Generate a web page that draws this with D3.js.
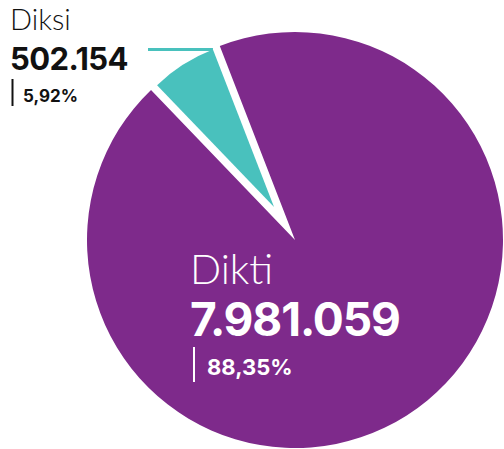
<!DOCTYPE html>
<html>
<head>
<meta charset="utf-8">
<script src="https://cdn.jsdelivr.net/npm/d3@7"></script>
<style>
  html, body { margin: 0; padding: 0; background: #fff; }
  svg { display: block; }
  text { font-family: Inter, "Open Sans", sans-serif; }
  text.name { font-family: Lato, Inter, sans-serif; }
</style>
</head>
<body>
<div id="chart"></div>
<script>
(function () {
  const categories = ['Diksi', 'Dikti'];
  const counts = [502154, 7981059];
  const percents = [5.92, 88.35];

  const COLORS = ['#49c1bd', '#7e2a8b'];

  var width = 504, height = 449;
  var cx = 295, cy = 240;
  var radius = 208;
  var explode = 39;

  var locale = d3.formatLocale({ decimal: ',', thousands: '.', grouping: [3], currency: ['', ''] });
  var fmtCount = locale.format(',');
  var fmtPct = locale.format('.2f');

  var svg = d3.select('#chart')
    .append('svg')
    .attr('width', width)
    .attr('height', height);

  // teal slice centred at -32.5deg from 12 o'clock
  var share = percents[0] / d3.sum(percents);
  var mid = -32.5 * Math.PI / 180;
  var start = mid - share * Math.PI;

  var pie = d3.pie()
    .sort(null)
    .value(function (d) { return d; })
    .startAngle(start)
    .endAngle(start + 2 * Math.PI);

  var arcs = pie(percents);

  var g = svg.append('g').attr('transform', 'translate(' + cx + ',' + cy + ')');

  // big slice
  g.append('path')
    .attr('d', d3.arc().innerRadius(0).outerRadius(radius)(arcs[1]))
    .attr('fill', COLORS[1]);

  // exploded small slice
  var a0 = arcs[0];
  var m = (a0.startAngle + a0.endAngle) / 2;
  var ox = explode * Math.sin(m), oy = -explode * Math.cos(m);
  var smallR = radius - explode;

  g.append('path')
    .attr('transform', 'translate(' + ox + ',' + oy + ')')
    .attr('d', d3.arc().innerRadius(0).outerRadius(smallR)(a0))
    .attr('fill', COLORS[0]);

  // connector from slice corner to label
  var cornerX = cx + ox + smallR * Math.sin(a0.endAngle);
  var cornerY = cy + oy - smallR * Math.cos(a0.endAngle);
  svg.append('line')
    .attr('x1', 148).attr('y1', cornerY)
    .attr('x2', cornerX).attr('y2', cornerY)
    .attr('stroke', COLORS[0])
    .attr('stroke-width', 3);

  // labels
  function label(x, y, i, color, s) {
    var lg = svg.append('g').attr('transform', 'translate(' + x + ',' + y + ')');
    lg.append('text')
      .attr('class', 'name')
      .attr('x', 0).attr('y', 0)
      .attr('fill', color)
      .attr('font-size', s.name)
      .attr('font-weight', 300)
      .text(categories[i]);
    lg.append('text')
      .attr('x', 0).attr('y', s.dy1)
      .attr('fill', color)
      .attr('font-size', s.value)
      .attr('font-weight', 700)
      .attr('letter-spacing', s.ls)
      .text(fmtCount(counts[i]));
    lg.append('line')
      .attr('x1', s.barX).attr('x2', s.barX)
      .attr('y1', s.barY0).attr('y2', s.barY1)
      .attr('stroke', color)
      .attr('stroke-width', 2);
    lg.append('text')
      .attr('x', s.pctX).attr('y', s.dy2)
      .attr('fill', color)
      .attr('font-size', s.pct)
      .attr('font-weight', 700)
      .text(fmtPct(percents[i]) + '%');
  }

  label(10, 30, 0, '#111', {
    name: 29, value: 31, ls: -0.6, dy1: 40,
    barX: 2.5, barY0: 49, barY1: 76,
    pct: 17, pctX: 13, dy2: 72
  });

  label(190, 284, 1, '#fff', {
    name: 41, value: 46, ls: -1.1, dy1: 52,
    barX: 4, barY0: 63, barY1: 98,
    pct: 22, pctX: 17, dy2: 91
  });
})();
</script>
</body>
</html>
